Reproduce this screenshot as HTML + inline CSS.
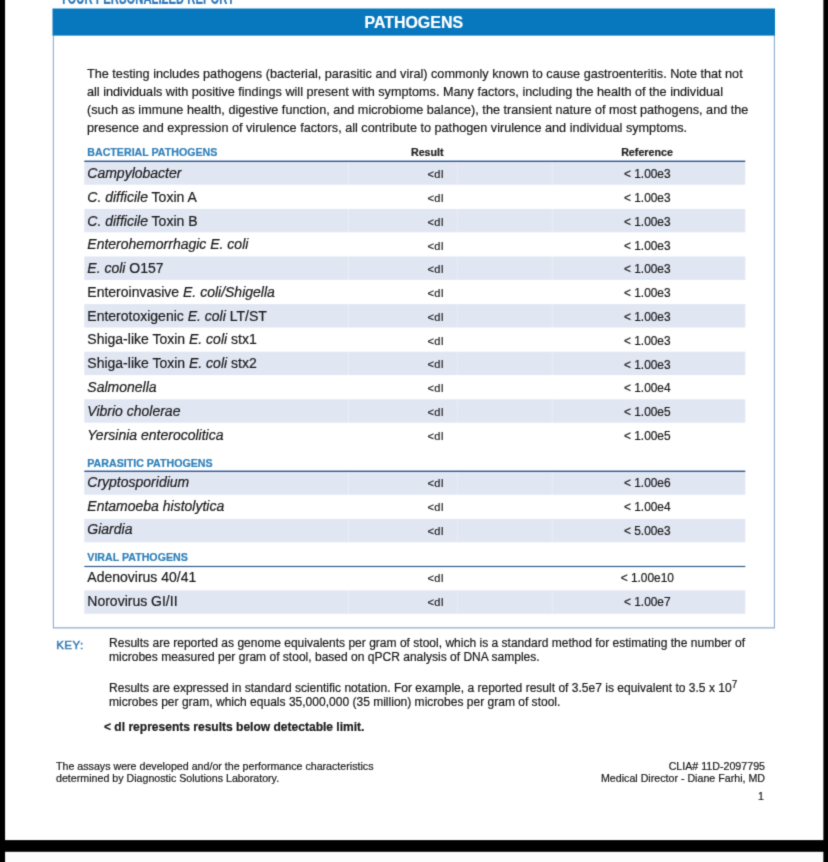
<!DOCTYPE html>
<html><head><meta charset="utf-8"><title>Pathogens</title>
<style>
html,body{margin:0;padding:0;}
body{width:828px;height:862px;background:#000;position:relative;overflow:hidden;font-family:"Liberation Sans",Arial,Helvetica,sans-serif;color:#1a1a1a;-webkit-text-stroke:0.2px currentColor;}
#wrap{background:#000;position:absolute;left:0;top:0;width:828px;height:862px;overflow:hidden;filter:url(#soft);}
.abs{position:absolute;white-space:nowrap;}
#ypr{left:59.5px;top:-10.2px;font-size:17.5px;line-height:17px;font-weight:bold;color:#3079bb;transform:scaleX(0.645);transform-origin:0 0;}
#hdr{position:absolute;left:52.5px;top:8.5px;width:722.5px;height:27px;color:#fff;font-weight:bold;font-size:15.95px;text-align:center;line-height:27.6px;}
#intro{position:absolute;left:87px;top:64.7px;width:700px;font-size:12.66px;line-height:18.2px;}
.sh{color:#2f80ba;font-weight:bold;font-size:10.65px;left:87.3px;}
.colh{font-weight:bold;font-size:10.7px;color:#222;}
.t{position:absolute;white-space:nowrap;line-height:24px;}
.n{left:87.3px;font-size:14px;}
.r{left:427.4px;font-size:11px;letter-spacing:0.5px;}
.f{left:597.3px;width:100px;text-align:center;font-size:11.9px;}
i{font-style:italic;}
.key{font-size:12.04px;line-height:13.3px;}
.ft{font-size:10.67px;line-height:11.9px;}
</style></head><body>
<svg width="0" height="0" style="position:absolute"><filter id="soft" x="0" y="0" width="100%" height="100%" color-interpolation-filters="sRGB"><feConvolveMatrix order="3" kernelMatrix="0.02 0.1 0.02 0.1 0.52 0.1 0.02 0.1 0.02" edgeMode="duplicate" preserveAlpha="true"/></filter></svg>
<div id="wrap"><svg id="bg" width="828" height="862" viewBox="0 0 828 862" style="position:absolute;left:0;top:0"><rect x="5.07" y="0" width="818.3" height="840.1" fill="#fff"/><rect x="5.07" y="851.8" width="818.3" height="11" fill="#fcfcfc"/><path d="M53.4 35 V627.9 H774.4 V35" fill="none" stroke="#8fadcb" stroke-width="1.1"/><rect x="52.5" y="8.5" width="722.5" height="27.1" fill="#0878be"/><rect x="84.3" y="162.00" width="661" height="22.70" fill="#e1e6f3"/><rect x="347.8" y="162.00" width="1" height="22.70" fill="#fff" opacity=".35"/><rect x="551.8" y="162.00" width="1" height="22.70" fill="#fff" opacity=".3"/><rect x="456.8" y="162.00" width="1" height="22.70" fill="#fff" opacity=".25"/><rect x="84.3" y="208.90" width="661" height="23.40" fill="#e1e6f3"/><rect x="347.8" y="208.90" width="1" height="23.40" fill="#fff" opacity=".35"/><rect x="551.8" y="208.90" width="1" height="23.40" fill="#fff" opacity=".3"/><rect x="456.8" y="208.90" width="1" height="23.40" fill="#fff" opacity=".25"/><rect x="84.3" y="256.50" width="661" height="23.40" fill="#e1e6f3"/><rect x="347.8" y="256.50" width="1" height="23.40" fill="#fff" opacity=".35"/><rect x="551.8" y="256.50" width="1" height="23.40" fill="#fff" opacity=".3"/><rect x="456.8" y="256.50" width="1" height="23.40" fill="#fff" opacity=".25"/><rect x="84.3" y="304.10" width="661" height="23.40" fill="#e1e6f3"/><rect x="347.8" y="304.10" width="1" height="23.40" fill="#fff" opacity=".35"/><rect x="551.8" y="304.10" width="1" height="23.40" fill="#fff" opacity=".3"/><rect x="456.8" y="304.10" width="1" height="23.40" fill="#fff" opacity=".25"/><rect x="84.3" y="351.70" width="661" height="23.40" fill="#e1e6f3"/><rect x="347.8" y="351.70" width="1" height="23.40" fill="#fff" opacity=".35"/><rect x="551.8" y="351.70" width="1" height="23.40" fill="#fff" opacity=".3"/><rect x="456.8" y="351.70" width="1" height="23.40" fill="#fff" opacity=".25"/><rect x="84.3" y="399.30" width="661" height="23.40" fill="#e1e6f3"/><rect x="347.8" y="399.30" width="1" height="23.40" fill="#fff" opacity=".35"/><rect x="551.8" y="399.30" width="1" height="23.40" fill="#fff" opacity=".3"/><rect x="456.8" y="399.30" width="1" height="23.40" fill="#fff" opacity=".25"/><rect x="84.3" y="472.00" width="661" height="22.70" fill="#e1e6f3"/><rect x="347.8" y="472.00" width="1" height="22.70" fill="#fff" opacity=".35"/><rect x="551.8" y="472.00" width="1" height="22.70" fill="#fff" opacity=".3"/><rect x="456.8" y="472.00" width="1" height="22.70" fill="#fff" opacity=".25"/><rect x="84.3" y="518.90" width="661" height="23.40" fill="#e1e6f3"/><rect x="347.8" y="518.90" width="1" height="23.40" fill="#fff" opacity=".35"/><rect x="551.8" y="518.90" width="1" height="23.40" fill="#fff" opacity=".3"/><rect x="456.8" y="518.90" width="1" height="23.40" fill="#fff" opacity=".25"/><rect x="84.3" y="590.40" width="661" height="23.40" fill="#e1e6f3"/><rect x="347.8" y="590.40" width="1" height="23.40" fill="#fff" opacity=".35"/><rect x="551.8" y="590.40" width="1" height="23.40" fill="#fff" opacity=".3"/><rect x="456.8" y="590.40" width="1" height="23.40" fill="#fff" opacity=".25"/><rect x="84.3" y="160" width="661" height="1" fill="#a3b8d6"/><rect x="84.3" y="161" width="661" height="1" fill="#375a82"/><rect x="84.3" y="470" width="661" height="1" fill="#a3b8d6"/><rect x="84.3" y="471" width="661" height="1" fill="#375a82"/><rect x="84.3" y="565" width="661" height="1" fill="#e6eef8"/><rect x="84.3" y="566" width="661" height="1" fill="#375a82"/><rect x="84.3" y="567" width="661" height="1" fill="#eaf1f9"/></svg>
<div id="ypr" class="abs">YOUR PERSONALIZED REPORT</div>
<div id="hdr">PATHOGENS</div>
<div id="intro">The testing includes pathogens (bacterial, parasitic and viral) commonly known to cause gastroenteritis. Note that not<br>all individuals with positive findings will present with symptoms. Many factors, including the health of the individual<br>(such as immune health, digestive function, and microbiome balance), the transient nature of most pathogens, and the<br>presence and expression of virulence factors, all contribute to pathogen virulence and individual symptoms.</div>

<div class="abs sh" style="top:146px">BACTERIAL PATHOGENS</div>
<div class="abs colh" style="left:397.3px;width:60px;text-align:center;top:146px">Result</div>
<div class="abs colh" style="left:597px;width:100px;text-align:center;top:146px">Reference</div>
<span class="t n" style="top:161px"><i>Campylobacter</i></span><span class="t r" style="top:162px">&lt;dl</span><span class="t f" style="top:162px">&lt; 1.00e3</span>
<span class="t n" style="top:185px"><i>C. difficile</i> Toxin A</span><span class="t r" style="top:186px">&lt;dl</span><span class="t f" style="top:186px">&lt; 1.00e3</span>
<span class="t n" style="top:209px"><i>C. difficile</i> Toxin B</span><span class="t r" style="top:210px">&lt;dl</span><span class="t f" style="top:210px">&lt; 1.00e3</span>
<span class="t n" style="top:232px"><i>Enterohemorrhagic E. coli</i></span><span class="t r" style="top:234px">&lt;dl</span><span class="t f" style="top:234px">&lt; 1.00e3</span>
<span class="t n" style="top:256px"><i>E. coli</i> O157</span><span class="t r" style="top:257px">&lt;dl</span><span class="t f" style="top:257px">&lt; 1.00e3</span>
<span class="t n" style="top:280px">Enteroinvasive <i>E. coli/Shigella</i></span><span class="t r" style="top:281px">&lt;dl</span><span class="t f" style="top:281px">&lt; 1.00e3</span>
<span class="t n" style="top:304px">Enterotoxigenic <i>E. coli</i> LT/ST</span><span class="t r" style="top:305px">&lt;dl</span><span class="t f" style="top:305px">&lt; 1.00e3</span>
<span class="t n" style="top:327px">Shiga-like Toxin <i>E. coli</i> stx1</span><span class="t r" style="top:329px">&lt;dl</span><span class="t f" style="top:329px">&lt; 1.00e3</span>
<span class="t n" style="top:351px">Shiga-like Toxin <i>E. coli</i> stx2</span><span class="t r" style="top:352px">&lt;dl</span><span class="t f" style="top:353px">&lt; 1.00e3</span>
<span class="t n" style="top:375px"><i>Salmonella</i></span><span class="t r" style="top:376px">&lt;dl</span><span class="t f" style="top:376px">&lt; 1.00e4</span>
<span class="t n" style="top:399px"><i>Vibrio cholerae</i></span><span class="t r" style="top:400px">&lt;dl</span><span class="t f" style="top:400px">&lt; 1.00e5</span>
<span class="t n" style="top:423px"><i>Yersinia enterocolitica</i></span><span class="t r" style="top:424px">&lt;dl</span><span class="t f" style="top:424px">&lt; 1.00e5</span>
<div class="abs sh" style="top:456.8px">PARASITIC PATHOGENS</div>
<span class="t n" style="top:470px"><i>Cryptosporidium</i></span><span class="t r" style="top:471px">&lt;dl</span><span class="t f" style="top:471px">&lt; 1.00e6</span>
<span class="t n" style="top:494px"><i>Entamoeba histolytica</i></span><span class="t r" style="top:495px">&lt;dl</span><span class="t f" style="top:495px">&lt; 1.00e4</span>
<span class="t n" style="top:517px"><i>Giardia</i></span><span class="t r" style="top:519px">&lt;dl</span><span class="t f" style="top:519px">&lt; 5.00e3</span>
<div class="abs sh" style="top:551px">VIRAL PATHOGENS</div>
<span class="t n" style="top:565px">Adenovirus 40/41</span><span class="t r" style="top:566px">&lt;dl</span><span class="t f" style="top:566px">&lt; 1.00e10</span>
<span class="t n" style="top:589px">Norovirus GI/II</span><span class="t r" style="top:590px">&lt;dl</span><span class="t f" style="top:590px">&lt; 1.00e7</span>

<div class="abs key" style="left:56.2px;top:639px;letter-spacing:0.45px;color:#3a7db5;font-size:11.5px;-webkit-text-stroke:0.5px #3a7db5">KEY:</div>
<div class="abs key" style="left:109px;top:637px">Results are reported as genome equivalents per gram of stool, which is a standard method for estimating the number of</div>
<div class="abs key" style="left:109px;top:651px">microbes measured per gram of stool, based on qPCR analysis of DNA samples.</div>
<div class="abs key" style="left:109px;top:682.4px">Results are expressed in standard scientific notation. For example, a reported result of 3.5e7 is equivalent to 3.5 x 10<span style="font-size:10px;line-height:0;position:relative;top:-4.4px">7</span><br>microbes per gram, which equals 35,000,000 (35 million) microbes per gram of stool.</div>
<div class="abs key" style="left:104px;top:720.8px;font-weight:bold">&lt; dl represents results below detectable limit.</div>
<div class="abs ft" style="left:56px;top:761px">The assays were developed and/or the performance characteristics<br>determined by Diagnostic Solutions Laboratory.</div>
<div class="abs ft" style="right:63px;top:761px;text-align:right">CLIA# 11D-2097795<br>Medical Director - Diane Farhi, MD</div>
<div class="abs ft" style="right:64px;top:791px;text-align:right">1</div>
</div></body></html>
